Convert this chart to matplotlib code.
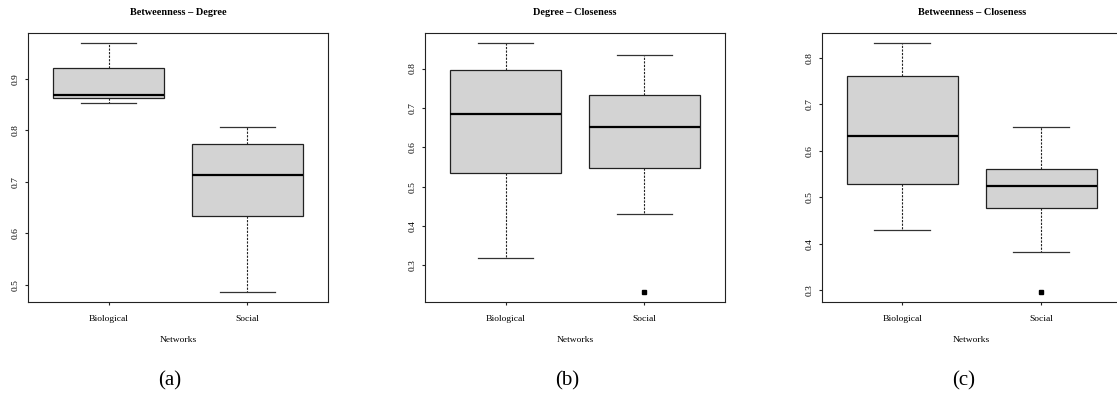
import matplotlib
matplotlib.use("Agg")
import matplotlib.pyplot as plt

plt.rcParams['font.family'] = ['Liberation Serif', 'DejaVu Serif']

# five-number summaries: [Biological, Social]
groups = ['Biological', 'Social']
titles = ['Betweenness \u2013 Degree', 'Degree \u2013 Closeness', 'Betweenness \u2013 Closeness']
captions = ['(a)', '(b)', '(c)']

bd_low = [0.853, 0.486]
bd_q1 = [0.8625, 0.634]
bd_med = [0.868, 0.714]
bd_q3 = [0.921, 0.773]
bd_high = [0.970, 0.806]
bd_out = [[], []]

dc_low = [0.318, 0.431]
dc_q1 = [0.534, 0.548]
dc_med = [0.684, 0.651]
dc_q3 = [0.797, 0.734]
dc_high = [0.865, 0.835]
dc_out = [[], [0.232]]

bc_low = [0.430, 0.382]
bc_q1 = [0.528, 0.476]
bc_med = [0.631, 0.524]
bc_q3 = [0.760, 0.560]
bc_high = [0.832, 0.651]
bc_out = [[], [0.296]]

panels = [
    (bd_low, bd_q1, bd_med, bd_q3, bd_high, bd_out),
    (dc_low, dc_q1, dc_med, dc_q3, dc_high, dc_out),
    (bc_low, bc_q1, bc_med, bc_q3, bc_high, bc_out),
]

W, H = 1117, 395
fig = plt.figure(figsize=(W / 100, H / 100), dpi=100)

lefts = [28, 425, 821.7]
ax_w, ax_top, ax_bot = 300, 33, 302

for i, (lo, q1, med, q3, hi, out) in enumerate(panels):
    ax = fig.add_axes([lefts[i] / W, 1 - ax_bot / H, ax_w / W, (ax_bot - ax_top) / H])
    stats = []
    for j in range(len(groups)):
        stats.append(dict(whislo=lo[j], q1=q1[j], med=med[j], q3=q3[j],
                          whishi=hi[j], fliers=out[j], label=groups[j]))
    ax.bxp(stats, positions=[1, 2], widths=0.8, patch_artist=True,
           boxprops=dict(facecolor='#d3d3d3', edgecolor='#222222', linewidth=0.9),
           medianprops=dict(color='black', linewidth=1.6),
           whiskerprops=dict(color='#222222', linewidth=0.8, linestyle=(0, (2, 1.2))),
           capprops=dict(color='#333333', linewidth=0.9),
           capwidths=0.4,
           flierprops=dict(marker='s', markersize=2.5, markerfacecolor='black',
                           markeredgecolor='black'))

    # R style 4% padding
    vals = lo + hi + [v for o in out for v in o]
    vmin, vmax = min(vals), max(vals)
    pad = (vmax - vmin) * 0.04
    ax.set_ylim(vmin - pad, vmax + pad)
    ax.set_xlim(0.42, 2.58)

    ax.set_xticks([1, 2])
    ax.set_xticklabels(groups)
    ax.tick_params(axis='both', labelsize=6.8, length=2.5, width=0.8, pad=7, color='#222222')
    ax.tick_params(axis='y', pad=3.5)
    for lab in ax.get_yticklabels():
        lab.set_rotation(90)
        lab.set_va('center')
    for s in ax.spines.values():
        s.set_linewidth(0.8)
        s.set_color('#222222')

    ax.set_title(titles[i], fontsize=7.4, fontweight='bold', pad=13)
    ax.set_xlabel('Networks', fontsize=6.8, labelpad=9)

    cx = (lefts[i] + ax_w / 2 - 8) / W
    fig.text(cx, 1 - 381 / H, captions[i], ha='center', va='center', fontsize=15)

fig.savefig('out.png', dpi=100)
